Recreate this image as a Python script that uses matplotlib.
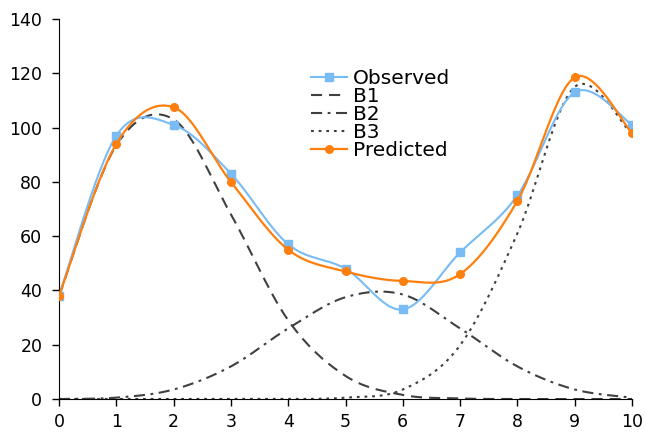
import matplotlib

matplotlib.use("Agg")
import matplotlib.pyplot as plt
import numpy as np

x = np.arange(0, 11)
observed = [38, 97, 101, 83, 57, 48, 33, 54, 75, 113, 101]
b1 = [38, 93.5, 103, 68, 29, 8.5, 1.5, 0.2, 0, 0, 0]
b2 = [0, 0.5, 3.5, 12, 26, 37.5, 38.5, 26, 12, 3.5, 0.5]
b3 = [0, 0, 0, 0, 0, 0.5, 3.5, 19.8, 61, 115, 97.5]
predicted = [38, 94, 107.5, 80, 55, 47, 43.5, 46, 73, 118.5, 98]


def smooth(xs, ys, n=30):
    """Excel-style smoothed line: cubic Bezier with Catmull-Rom control points."""
    xs = np.asarray(xs, dtype=float)
    ys = np.asarray(ys, dtype=float)
    px = np.concatenate([[xs[0]], xs, [xs[-1]]])
    py = np.concatenate([[ys[0]], ys, [ys[-1]]])
    t = np.linspace(0, 1, n)[:, None]
    out_x, out_y = [], []
    for i in range(1, len(px) - 2):
        p0 = np.array([px[i], py[i]])
        p3 = np.array([px[i + 1], py[i + 1]])
        c1 = p0 + (np.array([px[i + 1], py[i + 1]]) - np.array([px[i - 1], py[i - 1]])) / 6
        c2 = p3 - (np.array([px[i + 2], py[i + 2]]) - np.array([px[i], py[i]])) / 6
        pts = ((1 - t) ** 3) * p0 + 3 * ((1 - t) ** 2) * t * c1 + 3 * (1 - t) * t ** 2 * c2 + t ** 3 * p3
        out_x.append(pts[:, 0])
        out_y.append(pts[:, 1])
    return np.concatenate(out_x), np.concatenate(out_y)


plt.rcParams["lines.scale_dashes"] = False
fig = plt.figure(figsize=(6.45, 4.32), dpi=100)
ax = fig.add_axes([59 / 645, 33 / 432, 573 / 645, 380 / 432])

gray = "#404040"
blue = "#78BBF5"
orange = "#FF7F0E"

sx, sy = smooth(x, observed)
ax.plot(sx, sy, color=blue, lw=1.5, zorder=3)
ax.plot(x, observed, ls="none", marker="s", ms=5.5, color=blue, zorder=3)
ax.plot([], [], color=blue, lw=1.5, marker="s", ms=5.5, label="Observed")

sx, sy = smooth(x, b1)
ax.plot(sx, sy, color=gray, lw=1.5, dashes=(8, 5), label="B1", zorder=2)
sx, sy = smooth(x, b2)
ax.plot(sx, sy, color=gray, lw=1.5, dashes=(8, 4, 2, 4), label="B2", zorder=2)
sx, sy = smooth(x, b3)
ax.plot(sx, sy, color=gray, lw=1.5, dashes=(2, 3.5), label="B3", zorder=2)

sx, sy = smooth(x, predicted)
ax.plot(sx, sy, color=orange, lw=1.6, zorder=4)
ax.plot(x, predicted, ls="none", marker="o", ms=5.5, color=orange, zorder=4)
ax.plot([], [], color=orange, lw=1.6, marker="o", ms=5.5, label="Predicted")

ax.set_xlim(0, 10)
ax.set_ylim(0, 140)
ax.set_xticks(range(0, 11))
ax.set_yticks(range(0, 141, 20))
ax.spines[["top", "right"]].set_visible(False)
ax.tick_params(direction="out", length=5, width=1, labelsize=12.5)
ax.tick_params(axis="x", pad=5)
ax.tick_params(axis="y", pad=7)

ax.legend(loc="upper left", bbox_to_anchor=(0.423, 0.895), frameon=False, fontsize=14.5,
          handlelength=1.75, handletextpad=0.3, labelspacing=-0.05, borderpad=0)

fig.savefig("out.png", dpi=100)
